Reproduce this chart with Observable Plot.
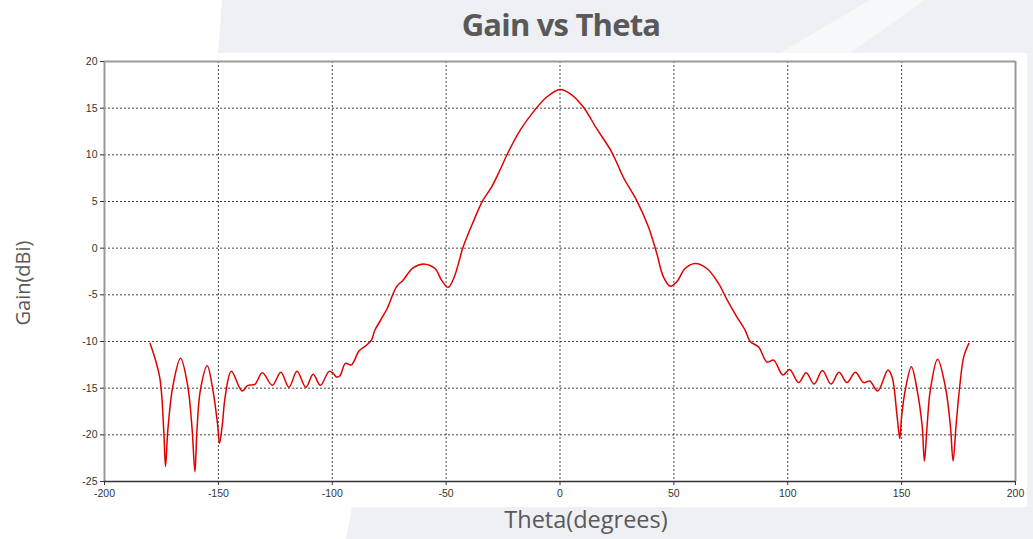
<!DOCTYPE html>
<html>
<head>
<meta charset="utf-8">
<script src="https://cdn.jsdelivr.net/npm/d3@7"></script>
<script src="https://cdn.jsdelivr.net/npm/@observablehq/plot@0.6"></script>
<style>
  html, body { margin: 0; padding: 0; background: #ffffff; }
  #page { position: relative; width: 1033px; height: 539px; overflow: hidden; background: #ffffff; }
  #bg { position: absolute; left: 0; top: 0; }
  #chart { position: absolute; left: 0; top: 0; }
  .lbl { position: absolute; color: #595959; white-space: nowrap; font-family: "Open Sans", sans-serif; }
  #title { left: 0; width: 1122px; top: 3px; text-align: center; font-weight: 700; font-size: 31px; letter-spacing: -0.8px; }
  #xlab { left: 0; width: 1172px; top: 503px; text-align: center; font-size: 23.5px; }
  #ylab { left: 22px; top: 283px; font-size: 20px; transform: translate(-50%, -50%) rotate(-90deg); }
</style>
</head>
<body>
<div id="page">
  <svg id="bg" width="1033" height="539">
    <polygon points="222,0 1033,0 1033,53 218,53" fill="#eff0f4"/>
    <polygon points="870,0 925,0 850,53 780,53" fill="#f7f8fa"/>
    <polygon points="1027,53 1033,53 1033,539 1027,539" fill="#eff0f4"/>
    <polygon points="352,507 1033,507 1033,539 346,539" fill="#eff0f4"/>
  </svg>
  <div id="chart"></div>
  <div id="title" class="lbl">Gain vs Theta</div>
  <div id="ylab" class="lbl">Gain(dBi)</div>
  <div id="xlab" class="lbl">Theta(degrees)</div>
</div>
<script>
const theta = [-180,-175.8,-174.0,-173.2,-172.2,-170,-166.6,-163.4,-161.5,-160.3,-159.4,-157.9,-154.9,-152.4,-150.3,-149.5,-148.3,-147,-144.3,-139.6,-137,-134,-130.7,-126.3,-122.6,-119,-115.5,-111.6,-108.4,-105.2,-101.4,-99.6,-98.2,-96.7,-94.2,-91.6,-88.2,-85,-82.8,-81.3,-78.5,-75.9,-71.8,-68.9,-64.5,-59.3,-54.9,-52,-49.1,-46.4,-42.5,-38.1,-34,-30,-26.4,-22.7,-17.6,-11.7,-5.8,0,4.4,10.3,16.1,22.7,27.8,33.7,38.8,42.5,45.4,48.4,51.3,54.9,59.3,64.5,69.6,73.5,77.5,81.3,83.5,87.2,90.9,93.8,97.9,100.8,104.8,108.1,111.6,115.2,119,122.5,126,129.7,133.3,136,139.5,144,145.8,148,149.2,150,151.6,154.3,156.8,159,160,161.2,162.6,165.8,169.2,171.4,172.6,173.9,175.5,177.3,179.5];
const gain = [-10.2,-13.8,-19.5,-23.4,-19.5,-14.8,-11.8,-14.85,-19.5,-23.95,-19.5,-15.2,-12.6,-15.2,-19,-20.9,-19,-15.9,-13.2,-15.3,-14.7,-14.6,-13.35,-14.7,-13.3,-14.9,-13.2,-14.9,-13.5,-14.7,-13.2,-13.4,-13.8,-13.7,-12.35,-12.5,-11.0,-10.4,-9.85,-8.8,-7.6,-6.46,-4.14,-3.43,-2.1,-1.71,-2.18,-3.43,-4.2,-3.07,0.14,2.82,5.07,6.57,8.35,10.3,12.6,14.6,16.2,17.0,16.56,15.1,12.8,10.3,7.6,5.1,2.3,-0.57,-3.07,-4.07,-3.6,-2.18,-1.64,-2.18,-3.78,-5.6,-7.3,-8.8,-10.0,-10.6,-12.2,-12.0,-13.6,-13.0,-14.4,-13.35,-14.56,-13.1,-14.56,-13.3,-14.4,-13.3,-14.4,-14.24,-15.3,-13.06,-13.8,-18,-20.4,-18,-15.2,-12.7,-15.2,-19,-22.8,-19,-15.2,-11.9,-14.85,-19,-22.8,-19,-14.85,-11.6,-10.2];
const xTicks = [-200,-150,-100,-50,0,50,100,150,200];
const yTicks = [-25,-20,-15,-10,-5,0,5,10,15,20];

const data = theta.map((t, i) => ({theta: t, gain: gain[i]}));
const xGrid = xTicks.slice(1, -1);
const yGrid = yTicks.slice(1, -1);

const chart = Plot.plot({
  width: 1033,
  height: 539,
  marginLeft: 104,
  marginRight: 18,
  marginTop: 61,
  marginBottom: 58,
  style: {background: "transparent", fontFamily: "'Liberation Sans', sans-serif", fontSize: "10.5px", color: "#333"},
  x: {domain: [-200, 200], ticks: xTicks, tickSize: 4, tickPadding: 4, label: null, tickFormat: d => String(d)},
  y: {domain: [-25, 20], ticks: yTicks, tickSize: 4, tickPadding: 3, label: null, tickFormat: d => String(d)},
  marks: [
    Plot.rect([0], {x1: -200, x2: 200, y1: -25, y2: 20, fill: "#ffffff"}),
    Plot.ruleX(xGrid, {stroke: "#444", strokeWidth: 1, strokeDasharray: "2,2"}),
    Plot.ruleY(yGrid, {stroke: "#444", strokeWidth: 1, strokeDasharray: "2,2"}),
    Plot.ruleX([-200, 200], {stroke: "#9a9a9a", strokeWidth: 2}),
    Plot.ruleY([20], {stroke: "#9a9a9a", strokeWidth: 2}),
    Plot.ruleY([-25], {stroke: "#333", strokeWidth: 1.5}),
    Plot.line(data, {x: "theta", y: "gain", stroke: "#e00000", strokeWidth: 1.5, curve: "catmull-rom"}),
    Plot.axisX({ticks: xTicks, tickSize: 4, tickPadding: 4, tickFormat: d => String(d), label: null}),
    Plot.axisY({ticks: yTicks, tickSize: 4, tickPadding: 3, tickFormat: d => String(d), label: null})
  ]
});
document.getElementById("chart").appendChild(chart);
</script>
</body>
</html>
